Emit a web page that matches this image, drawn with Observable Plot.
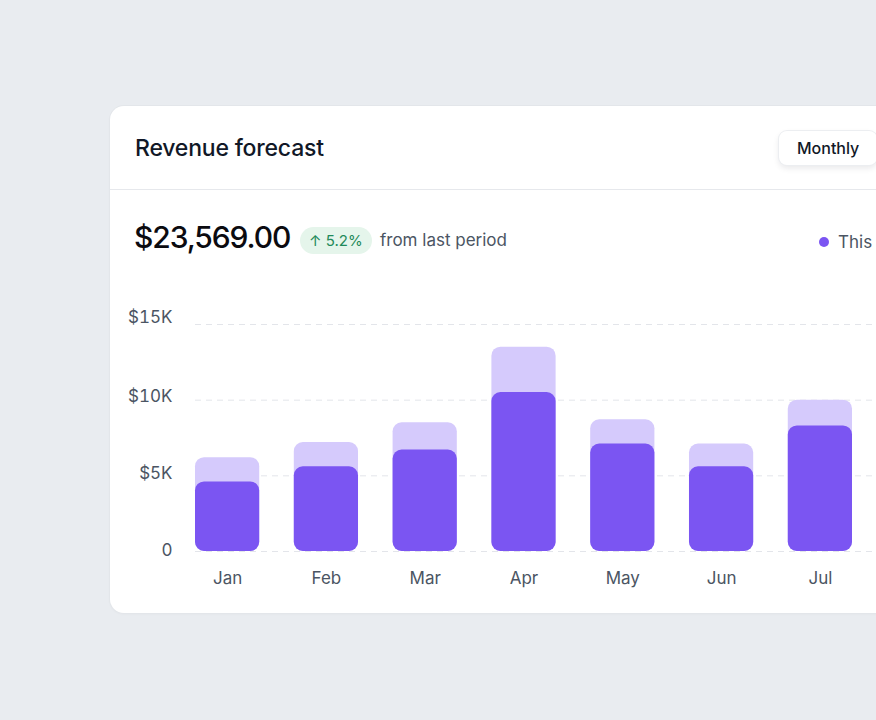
<!DOCTYPE html>
<html>
<head>
<meta charset="utf-8">
<script src="https://cdn.jsdelivr.net/npm/d3@7"></script>
<script src="https://cdn.jsdelivr.net/npm/@observablehq/plot@0.6"></script>
<style>
  html, body { margin: 0; padding: 0; }
  body {
    width: 876px; height: 720px; overflow: hidden;
    background: #e9ecf0;
    font-family: Inter, "Noto Sans", sans-serif;
    position: relative;
  }
  .card {
    position: absolute; left: 110px; top: 106px;
    width: 820px; height: 507px;
    background: #fff; border-radius: 14px;
    box-shadow: 0 0 0 1px #e3e6ea, 0 1px 3px rgba(16,24,40,0.04);
  }
  .header {
    position: absolute; left: 0; top: 0; right: 0; height: 83px;
    border-bottom: 1px solid #e6e8ec;
  }
  .title {
    position: absolute; left: 25px; top: 28px;
    font-size: 23px; font-weight: 500; color: #111827; letter-spacing: -0.2px;
  }
  .toggle {
    position: absolute; left: 669px; top: 25px; height: 34px;
    padding: 0 18px; display: flex; align-items: center;
    background: #fff; border-radius: 8px;
    box-shadow: 0 0 0 1px #eceef1, 0 3px 6px rgba(16,24,40,0.10);
    font-size: 16px; font-weight: 500; color: #111827;
  }
  .total {
    position: absolute; left: 24px; top: 113px;
    font-size: 30px; font-weight: 500; color: #0b0b10; letter-spacing: -1.1px;
  }
  .badge {
    position: absolute; left: 190px; top: 121px; height: 27px;
    padding: 0 9px; display: flex; align-items: center;
    background: #e5f5eb; border-radius: 14px;
    font-size: 15px; color: #1f8a5a; font-weight: 400;
  }
  .note {
    position: absolute; left: 270px; top: 124px;
    font-size: 17px; color: #4b5563;
  }
  .legend {
    position: absolute; left: 709px; top: 126px;
    display: flex; align-items: center; white-space: nowrap;
    font-size: 17px; color: #4b5563;
  }
  .legend .dot {
    width: 10px; height: 10px; border-radius: 50%;
    background: #7b55f2; margin-right: 9px;
  }
  #chart { position: absolute; left: 0; top: 184px; }
</style>
</head>
<body>
<div class="card">
  <div class="header">
    <div class="title">Revenue forecast</div>
    <div class="toggle">Monthly</div>
  </div>
  <div class="total">$23,569.00</div>
  <div class="badge">↑ 5.2%</div>
  <div class="note">from last period</div>
  <div class="legend"><span class="dot"></span>This period</div>
  <div id="chart"></div>
</div>
<script>
// Monthly revenue, in dollars
const months = ["Jan", "Feb", "Mar", "Apr", "May", "Jun", "Jul"];
const current = [4600, 5600, 6700, 10500, 7100, 5600, 8300];
const projected = [6200, 7200, 8500, 13500, 8700, 7100, 10000];
const yTicks = [0, 5000, 10000, 15000];

const rows = months.map((m, i) => ({month: m, current: current[i], projected: projected[i]}));

const fmt = d => d === 0 ? "0" : `$${d / 1000}K`;
// tick labels sit a little above their gridlines, more so higher up
const yLabel = (ticks, dy) => Plot.axisY(ticks, {tickSize: 0, tickPadding: 23, dy, tickFormat: fmt, fill: "#4b5563"});

const chart = Plot.plot({
  width: 790,
  height: 320,
  marginTop: 34,
  marginBottom: 59,
  marginLeft: 85,
  marginRight: 0,
  style: {fontFamily: "Inter, 'Noto Sans', sans-serif", fontSize: "17px", color: "#4b5563", background: "transparent"},
  x: {domain: months, range: [85, 742], paddingInner: 0.35, paddingOuter: 0, round: false, label: null},
  y: {domain: [0, 15000], label: null},
  marks: [
    Plot.gridY(yTicks, {stroke: "#e3e5ea", strokeOpacity: 1, strokeDasharray: "6,5"}),
    Plot.barY(rows, {x: "month", y: "projected", fill: "#d5cafc", rx: 9}),
    Plot.barY(rows, {x: "month", y: "current", fill: "#7b55f2", rx: 9}),
    yLabel([15000], -7),
    yLabel([10000], -4),
    yLabel([5000], -2),
    yLabel([0], -1),
    Plot.axisX({tickSize: 0, tickPadding: 20, fill: "#4b5563"})
  ]
});
document.getElementById("chart").appendChild(chart);
</script>
</body>
</html>
